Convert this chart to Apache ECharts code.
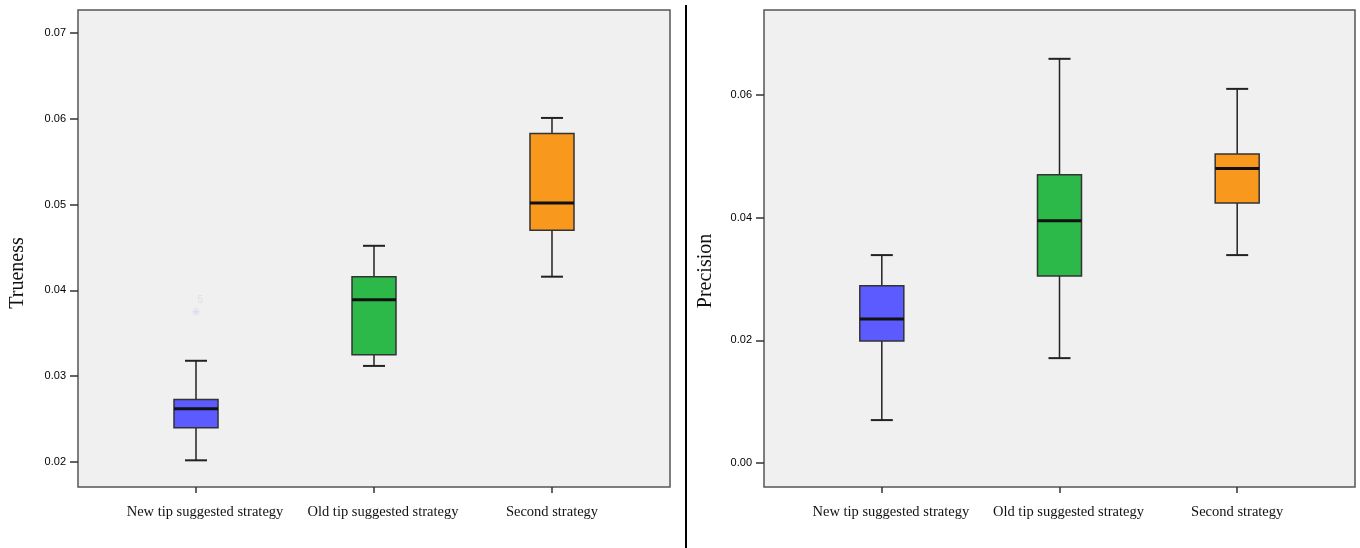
<!DOCTYPE html>
<html>
<head>
<meta charset="utf-8">
<script src="https://cdn.jsdelivr.net/npm/echarts@6/dist/echarts.min.js"></script>
<style>
html,body{margin:0;padding:0;background:#fff;}
#c{width:1360px;height:548px;}
</style>
</head>
<body>
<div id="c"></div>
<script>
// ---- data ----
const categories = ['New tip suggested strategy', 'Old tip suggested strategy', 'Second strategy'];
// [low whisker, Q1, median, Q3, high whisker]
const truenessStats = [
  [0.0202, 0.0240, 0.0262, 0.0273, 0.0318],
  [0.0312, 0.0325, 0.0389, 0.0416, 0.0452],
  [0.0416, 0.0470, 0.0502, 0.0583, 0.0601]
];
const truenessOutliers = [[0, 0.0375, '5']];
const precisionStats = [
  [0.0070, 0.0199, 0.0235, 0.0289, 0.0339],
  [0.0171, 0.0305, 0.0395, 0.0470, 0.0659],
  [0.0339, 0.0424, 0.0480, 0.0504, 0.0610]
];
const truenessTicks = [0.02, 0.03, 0.04, 0.05, 0.06, 0.07];
const precisionTicks = [0.00, 0.02, 0.04, 0.06];
const categoryPositions = [0, 1, 2];

// ---- styles ----
const boxColors = ['#5b5bff', '#2db84a', '#f8991e'];
const labelStyleKeys = ['shift', 'shift', 'plain'];

function renderBox(params, api) {
  const x = api.value(0);
  const low = api.coord([x, api.value(1)]);
  const q1 = api.coord([x, api.value(2)]);
  const med = api.coord([x, api.value(3)]);
  const q3 = api.coord([x, api.value(4)]);
  const high = api.coord([x, api.value(5)]);
  const cx = low[0];
  const half = 22, cap = 11;
  const ws = {stroke: '#222', lineWidth: 1.5};
  return {
    type: 'group',
    children: [
      {type: 'line', shape: {x1: cx, y1: high[1], x2: cx, y2: q3[1]}, style: ws},
      {type: 'line', shape: {x1: cx, y1: q1[1], x2: cx, y2: low[1]}, style: ws},
      {type: 'line', shape: {x1: cx - cap, y1: high[1], x2: cx + cap, y2: high[1]}, style: {stroke: '#222', lineWidth: 2}},
      {type: 'line', shape: {x1: cx - cap, y1: low[1], x2: cx + cap, y2: low[1]}, style: {stroke: '#222', lineWidth: 2}},
      {type: 'rect', shape: {x: cx - half, y: q3[1], width: half * 2, height: q1[1] - q3[1]},
        style: {fill: boxColors[params.dataIndex], stroke: '#333', lineWidth: 1.5}},
      {type: 'line', shape: {x1: cx - half, y1: med[1], x2: cx + half, y2: med[1]}, style: {stroke: '#111', lineWidth: 3}}
    ]
  };
}

function makeXAxis(gridIndex) {
  return {
    type: 'value', gridIndex: gridIndex, position: 'bottom',
    min: -0.663, max: 2.663,
    axisLine: {show: false, onZero: false},
    splitLine: {show: false},
    axisTick: {show: true, customValues: categoryPositions, length: 6, lineStyle: {color: '#333', width: 1.5}},
    axisLabel: {
      customValues: categoryPositions,
      formatter: v => {
        const i = Math.round(v);
        return '{' + labelStyleKeys[i] + '|' + categories[i] + '}';
      },
      fontFamily: 'Liberation Serif', fontSize: 14.5, color: '#111', margin: 18,
      rich: {
        shift: {fontFamily: 'Liberation Serif', fontSize: 14.5, color: '#111', padding: [0, 0, 0, 18]},
        plain: {fontFamily: 'Liberation Serif', fontSize: 14.5, color: '#111'}
      }
    }
  };
}
function makeYAxis(gridIndex, min, max, ticks) {
  return {
    type: 'value', gridIndex: gridIndex, position: 'left',
    min: min, max: max,
    axisLine: {show: false, onZero: false},
    splitLine: {show: false},
    axisTick: {show: true, customValues: ticks, length: 8, lineStyle: {color: '#333', width: 1.5}},
    axisLabel: {
      customValues: ticks,
      formatter: v => v.toFixed(2),
      fontFamily: 'Liberation Sans', fontSize: 11, color: '#000', margin: 12
    }
  };
}

const chart = echarts.init(document.getElementById('c'), null, {renderer: 'canvas'});
chart.setOption({
  backgroundColor: '#ffffff',
  animation: false,
  grid: [
    {left: 78, top: 10, width: 592, height: 477, show: true, backgroundColor: '#f0f0f0', borderColor: '#555', borderWidth: 1.5},
    {left: 764, top: 10, width: 591, height: 477, show: true, backgroundColor: '#f0f0f0', borderColor: '#555', borderWidth: 1.5}
  ],
  xAxis: [makeXAxis(0), makeXAxis(1)],
  yAxis: [
    makeYAxis(0, 0.01709, 0.07268, truenessTicks),
    makeYAxis(1, -0.00391, 0.07386, precisionTicks)
  ],
  graphic: [
    {type: 'line', shape: {x1: 686, y1: 5, x2: 686, y2: 548}, style: {stroke: '#000', lineWidth: 2}},
    {type: 'text', x: 18, y: 273, rotation: Math.PI / 2,
      style: {text: 'Trueness', font: '20px "Liberation Serif"', fill: '#111', align: 'center', verticalAlign: 'middle'}},
    {type: 'text', x: 706, y: 271, rotation: Math.PI / 2,
      style: {text: 'Precision', font: '20px "Liberation Serif"', fill: '#111', align: 'center', verticalAlign: 'middle'}}
  ],
  series: [
    {
      type: 'custom', xAxisIndex: 0, yAxisIndex: 0,
      renderItem: renderBox,
      encode: {x: 0, y: [1, 2, 3, 4, 5]},
      data: categories.map((c, i) => [categoryPositions[i]].concat(truenessStats[i]))
    },
    {
      type: 'custom', xAxisIndex: 1, yAxisIndex: 1,
      renderItem: renderBox,
      encode: {x: 0, y: [1, 2, 3, 4, 5]},
      data: categories.map((c, i) => [categoryPositions[i]].concat(precisionStats[i]))
    },
    {
      type: 'scatter', xAxisIndex: 0, yAxisIndex: 0,
      symbol: 'path://M5,0L5,10M0,5L10,5M1.5,1.5L8.5,8.5M8.5,1.5L1.5,8.5',
      symbolSize: 8,
      itemStyle: {color: 'none', borderColor: '#d4d4f4', borderWidth: 1},
      label: {show: true, position: [8, -10], formatter: p => p.value[2], color: '#dcdcdc', fontSize: 10, fontFamily: 'Liberation Sans'},
      data: truenessOutliers
    }
  ]
});
</script>
</body>
</html>
